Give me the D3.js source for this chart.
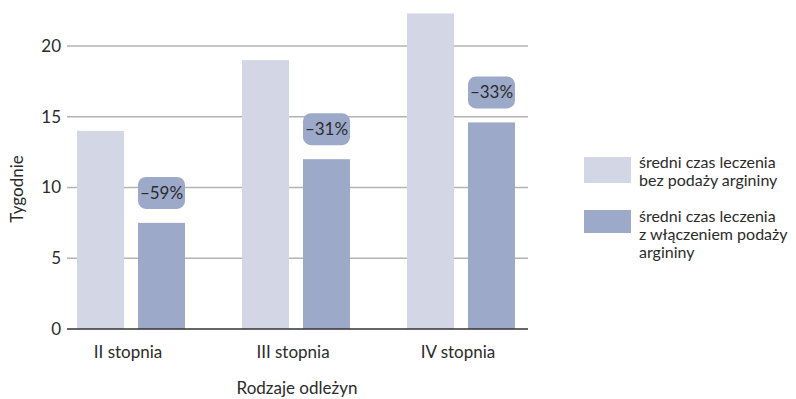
<!DOCTYPE html>
<html>
<head>
<meta charset="utf-8">
<script src="https://cdn.jsdelivr.net/npm/d3@7/dist/d3.min.js"></script>
<style>
  html, body { margin: 0; padding: 0; background: #fff; }
  svg { display: block; font-family: Lato, "Noto Sans", sans-serif; }
</style>
</head>
<body>
<svg id="chart" width="796" height="399"></svg>
<script>
// Pressure ulcer grades and mean healing time in weeks
const categories = ["II stopnia", "III stopnia", "IV stopnia"];
const seriesKeys = ["bez", "z"];
const withoutArginine = [14, 19, 22.3];
const withArginine = [7.5, 12, 14.6];
const reductionLabels = ["\u201359%", "\u201331%", "\u201333%"];
const yTicks = [0, 5, 10, 15, 20];
const legendLabels = [
  ["średni czas leczenia", "bez podaży argininy"],
  ["średni czas leczenia", "z włączeniem podaży", "argininy"]
];

const colors = { bez: "#D2D6E5", z: "#9DA9C9" };
const textColor = "#2b2b2b";
const fontSize = 17;
const legendFontSize = 16;

const svg = d3.select("#chart");

const plot = { left: 67, right: 528, bottom: 329 };

const y = d3.scaleLinear().domain([0, 20]).range([plot.bottom, plot.bottom - 283]);

const x0 = d3.scaleBand().domain(categories).range([48.5, 543.5]).padding(0);
const groupWidth = 108;
const x1 = d3.scaleBand().domain(seriesKeys).range([0, groupWidth]).paddingInner(0.2295).paddingOuter(0);
const groupStart = c => x0(c) + (x0.bandwidth() - groupWidth) / 2;

// Horizontal grid lines
svg.append("g")
  .selectAll("line")
  .data(yTicks.filter(t => t > 0))
  .join("line")
  .attr("x1", plot.left).attr("x2", plot.right)
  .attr("y1", d => y(d)).attr("y2", d => y(d))
  .attr("stroke", "#b3b3b3").attr("stroke-width", 1.3);

// Y tick labels
svg.append("g")
  .selectAll("text")
  .data(yTicks)
  .join("text")
  .attr("x", 61).attr("y", d => y(d))
  .attr("dy", "0.35em")
  .attr("text-anchor", "end")
  .attr("font-size", fontSize)
  .attr("fill", textColor)
  .text(d => d);

const rows = categories.map((c, i) => ({ c, bez: withoutArginine[i], z: withArginine[i], label: reductionLabels[i] }));

// Bars
const groups = svg.append("g").selectAll("g")
  .data(rows)
  .join("g")
  .attr("transform", d => `translate(${groupStart(d.c)},0)`);

groups.selectAll("rect")
  .data(d => seriesKeys.map(k => ({ k, v: d[k] })))
  .join("rect")
  .attr("x", d => x1(d.k))
  .attr("width", x1.bandwidth())
  .attr("y", d => y(d.v))
  .attr("height", d => y(0) - y(d.v))
  .attr("fill", d => colors[d.k]);

// Reduction badges above the arginine bars
const badgeH = 32, badgeGap = 14;
groups.append("rect")
  .attr("x", x1("z"))
  .attr("width", x1.bandwidth())
  .attr("y", d => y(d.z) - badgeGap - badgeH)
  .attr("height", badgeH)
  .attr("rx", 8).attr("ry", 8)
  .attr("fill", colors.z);

groups.append("text")
  .attr("x", x1("z") + x1.bandwidth() / 2)
  .attr("y", d => y(d.z) - badgeGap - badgeH / 2)
  .attr("dy", "0.35em")
  .attr("text-anchor", "middle")
  .attr("font-size", fontSize)
  .attr("fill", textColor)
  .text(d => d.label);

// Baseline
svg.append("line")
  .attr("x1", plot.left).attr("x2", plot.right)
  .attr("y1", y(0)).attr("y2", y(0))
  .attr("stroke", "#333").attr("stroke-width", 1.5);

// Category labels
svg.append("g")
  .selectAll("text")
  .data(categories)
  .join("text")
  .attr("x", c => groupStart(c) + groupWidth / 2 - 3)
  .attr("y", 352)
  .attr("dy", "0.35em")
  .attr("text-anchor", "middle")
  .attr("font-size", fontSize)
  .attr("fill", textColor)
  .text(c => c);

// Axis titles
svg.append("text")
  .attr("x", 297).attr("y", 388)
  .attr("dy", "0.35em")
  .attr("text-anchor", "middle")
  .attr("font-size", fontSize)
  .attr("fill", textColor)
  .text("Rodzaje odleżyn");

svg.append("text")
  .attr("transform", "translate(17,189) rotate(-90)")
  .attr("dy", "0.35em")
  .attr("text-anchor", "middle")
  .attr("font-size", fontSize)
  .attr("fill", textColor)
  .text("Tygodnie");

// Legend
const legendItems = [
  { k: "bez", lines: legendLabels[0], swY: 157, swH: 26, textY: 162 },
  { k: "z", lines: legendLabels[1], swY: 210, swH: 23, textY: 216 }
];
const legend = svg.append("g");
legendItems.forEach(item => {
  legend.append("rect")
    .attr("x", 584).attr("y", item.swY)
    .attr("width", 47).attr("height", item.swH)
    .attr("fill", colors[item.k]);
  item.lines.forEach((ln, i) => {
    legend.append("text")
      .attr("x", 639).attr("y", item.textY + i * 18)
      .attr("dy", "0.35em")
      .attr("font-size", legendFontSize)
      .attr("fill", textColor)
      .text(ln);
  });
});
</script>
</body>
</html>
